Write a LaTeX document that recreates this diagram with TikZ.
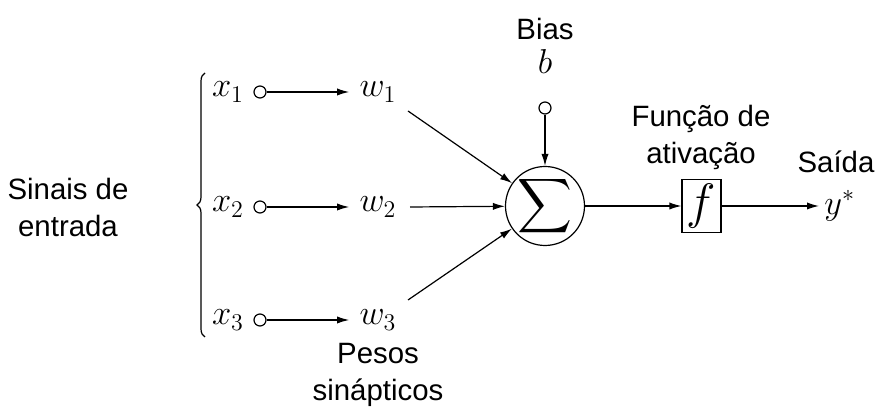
\documentclass[tikz,border=0pt]{standalone}
\usepackage{amsmath}
\usepackage{graphicx}
\usepackage{fontspec}
\setmainfont{Liberation Sans}
\usetikzlibrary{arrows.meta,decorations.pathreplacing}
\begin{document}
\begin{tikzpicture}[x=0.5pt,y=-0.5pt,
  every node/.style={font=\fontsize{14.7}{18.5}\selectfont, inner sep=0pt},
  lbl/.style={align=center},
  mth/.style={font=\fontsize{17.5}{20}\selectfont},
  conn/.style={line width=0.6pt},
  arr/.style={conn,-{Latex[length=6pt,width=3.6pt]}},
  port/.style={circle,draw,line width=0.6pt,minimum size=6pt,inner sep=0pt},
  sumnode/.style={circle,draw,line width=0.6pt,minimum size=39.5pt,inner sep=0pt},
  fbox/.style={draw,line width=0.6pt,minimum width=19.5pt,minimum height=26.5pt,inner sep=0pt,font=\fontsize{25}{27}\selectfont}]
\useasboundingbox (0,0) rectangle (884,410);
% inputs
\foreach \i/\y in {1/92,2/207,3/320}{
  \node[mth] (x\i) at (228,\y) {$x_{\i}$};
  \node[port] (p\i) at (260,\y) {};
  \node[mth] (w\i) at (378,\y) {$w_{\i}$};
  \draw[arr] (p\i) -- ([xshift=-5pt]w\i.west);
}
% sum
\node[sumnode] (s) at (545,206) {};
\node[mth] (sig) at (s.center) {\scalebox{1.1}{$\displaystyle\sum$}};
\coordinate (c1) at (408,111);
\coordinate (c2) at (410,207);
\coordinate (c3) at (408,300);
\draw[arr] (c1) -- (s);
\draw[arr] (c2) -- (s);
\draw[arr] (c3) -- (s);
% bias
\node[port] (pb) at (545,108) {};
\draw[arr] (pb) -- (s);
\node[mth] (b) at (545,62) {$b$};
\node[lbl] (bias) at (545,29) {Bias};
% activation
\node[fbox] (f) at (701.5,206) {$f$};
\draw[arr] (s) -- (f);
\node[mth,anchor=west] (y) at (824,206) {$y^{*}$};
\draw[arr] (f) -- ([xshift=-2.5pt]y.west);
\node[lbl] (fa) at (701,137) {Função de\\ativação};
\node[lbl] (said) at (836,162) {Saída};
% labels
\node[lbl] (sinais) at (68,207) {Sinais de\\entrada};
\node[lbl] (pesos) at (378,375) {Pesos\\sinápticos};
% brace
\coordinate (bb) at (205,337);
\coordinate (bt) at (205,73);
\draw[conn,decorate,decoration={brace,amplitude=4pt}] (bb) -- (bt);
\end{tikzpicture}
\end{document}
